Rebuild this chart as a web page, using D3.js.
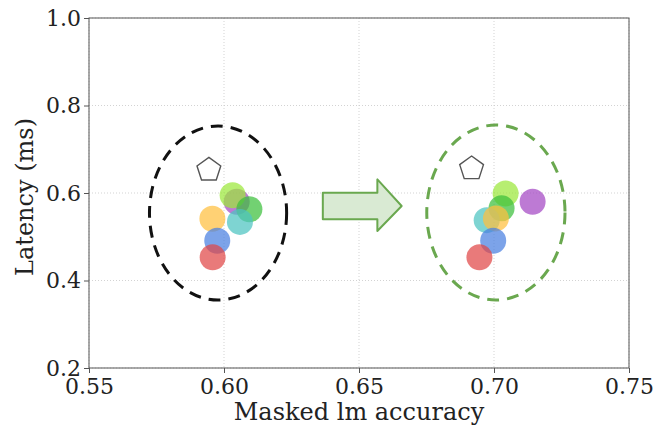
<!DOCTYPE html>
<html>
<head>
<meta charset="utf-8">
<script src="https://cdn.jsdelivr.net/npm/d3@7"></script>
<style>
  body { margin: 0; background: #fff; }
  text { font-family: "DejaVu Serif", serif; }
</style>
</head>
<body>
<div id="chart"></div>
<script>
// data
var xTicks = [0.55, 0.60, 0.65, 0.70, 0.75];
var yTicks = [0.2, 0.4, 0.6, 0.8, 1.0];
var colors = ["#a347c4", "#9be83a", "#3cbf3c", "#4cc3c1", "#ffbf3f", "#4a7fe0", "#e04646"];

// before (left cluster)
var beforeX = [0.6047, 0.6032, 0.6094, 0.6059, 0.5957, 0.5975, 0.5958];
var beforeY = [0.580, 0.595, 0.563, 0.534, 0.541, 0.491, 0.453];
// after (right cluster)
var afterX = [0.7143, 0.7043, 0.7028, 0.6973, 0.7007, 0.6997, 0.6946];
var afterY = [0.580, 0.599, 0.565, 0.538, 0.542, 0.491, 0.453];

var pentX = [0.5944, 0.6917];
var pentY = [0.653, 0.656];

// ellipse centres / half-widths in data units
var ellCx = [0.5978, 0.7007];
var ellCy = [0.5543, 0.5554];
var ellRx = [0.0254, 0.0256];
var ellRy = [0.1989, 0.2000];

// arrow outline in data units
var arrowPts = [[0.6366, 0.5399], [0.6568, 0.5399], [0.6568, 0.5131], [0.6658, 0.5703],
    [0.6568, 0.6311], [0.6568, 0.6007], [0.6366, 0.6007]];

var svgWidth = 655;
var svgHeight = 429;
var margin = { top: 18, right: 26, bottom: 61, left: 89 };
var width = svgWidth - margin.left - margin.right;
var height = svgHeight - margin.top - margin.bottom;

var svg = d3.select("#chart").append("svg")
    .attr("width", svgWidth)
    .attr("height", svgHeight);

var g = svg.append("g")
    .attr("transform", `translate(${margin.left}, ${margin.top})`);

var x = d3.scaleLinear().domain([0.55, 0.75]).range([0, width]);
var y = d3.scaleLinear().domain([0.2, 1.0]).range([height, 0]);

// grid
g.selectAll(".gx").data(xTicks).enter().append("line")
    .attr("x1", d => x(d)).attr("x2", d => x(d))
    .attr("y1", 0).attr("y2", height)
    .attr("stroke", "#c8c8c8").attr("stroke-width", 0.8)
    .attr("stroke-dasharray", "1,2");
g.selectAll(".gy").data(yTicks).enter().append("line")
    .attr("y1", d => y(d)).attr("y2", d => y(d))
    .attr("x1", 0).attr("x2", width)
    .attr("stroke", "#c8c8c8").attr("stroke-width", 0.8)
    .attr("stroke-dasharray", "1,2");

// axes
var xAxis = g.append("g")
    .attr("transform", `translate(0, ${height})`)
    .call(d3.axisBottom(x).tickValues(xTicks).tickFormat(d3.format(".2f")).tickSize(5).tickSizeOuter(0));
var yAxis = g.append("g")
    .call(d3.axisLeft(y).tickValues(yTicks).tickFormat(d3.format(".1f")).tickSize(5).tickSizeOuter(0));

[xAxis, yAxis].forEach(function (a) {
    a.select(".domain").remove();
    a.selectAll("line").attr("stroke", "#555");
    a.selectAll("text").attr("font-size", 22).attr("fill", "#222")
        .attr("font-family", "DejaVu Serif");
});
xAxis.selectAll("text").attr("dy", "0.82em");

// frame
g.append("rect")
    .attr("width", width).attr("height", height)
    .attr("fill", "none").attr("stroke", "#555").attr("stroke-width", 1);

// ellipses
var ellStroke = ["#111", "#6aa84f"];
ellCx.forEach(function (cx, i) {
    g.append("ellipse")
        .attr("cx", x(cx)).attr("cy", y(ellCy[i]))
        .attr("rx", x(cx + ellRx[i]) - x(cx))
        .attr("ry", y(0.2) - y(0.2 + ellRy[i]))
        .attr("fill", "none")
        .attr("stroke", ellStroke[i])
        .attr("stroke-width", 3)
        .attr("stroke-dasharray", "12,8");
});

// arrow
g.append("path")
    .attr("d", d3.line().x(d => x(d[0])).y(d => y(d[1]))(arrowPts) + "Z")
    .attr("fill", "#d9ead3")
    .attr("stroke", "#6aa84f")
    .attr("stroke-width", 2)
    .attr("stroke-linejoin", "round");

// circles
function drawCluster(xs, ys) {
    g.append("g").selectAll("circle")
        .data(xs.map((v, i) => ({ x: v, y: ys[i], c: colors[i] })))
        .enter().append("circle")
        .attr("cx", d => x(d.x))
        .attr("cy", d => y(d.y))
        .attr("r", 13)
        .attr("fill", d => d.c)
        .attr("fill-opacity", 0.72);
}
drawCluster(beforeX, beforeY);
drawCluster(afterX, afterY);

// pentagons
pentX.forEach(function (px, i) {
    var pts = d3.range(5).map(function (k) {
        var a = -Math.PI / 2 + k * 2 * Math.PI / 5;
        return [x(px) + 12.5 * Math.cos(a), y(pentY[i]) + 12.5 * Math.sin(a)];
    });
    g.append("polygon")
        .attr("points", pts.map(p => p.join(",")).join(" "))
        .attr("fill", "none")
        .attr("stroke", "#555")
        .attr("stroke-width", 1.4);
});

// axis labels
svg.append("text")
    .attr("x", 359)
    .attr("y", 420)
    .attr("text-anchor", "middle")
    .attr("font-size", 24)
    .attr("fill", "#222")
    .text("Masked lm accuracy");

svg.append("text")
    .attr("transform", "translate(33, 197) rotate(-90)")
    .attr("text-anchor", "middle")
    .attr("font-size", 24)
    .attr("fill", "#222")
    .text("Latency (ms)");
</script>
</body>
</html>
